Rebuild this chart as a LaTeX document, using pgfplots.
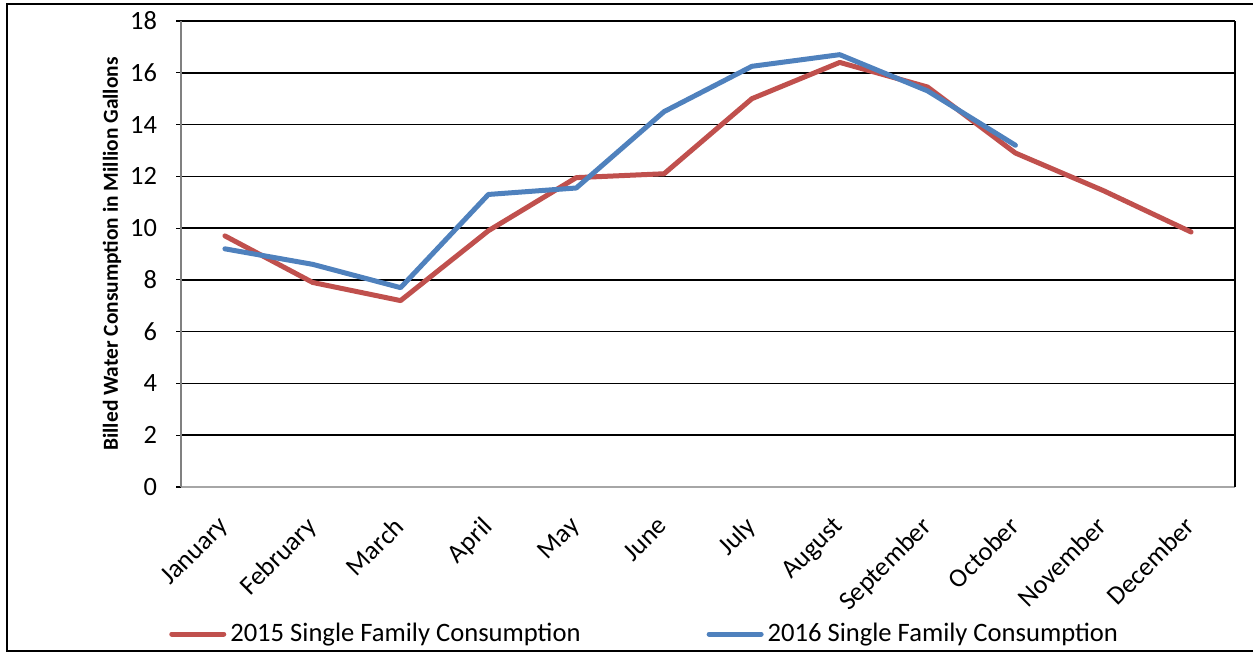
\documentclass[border=0pt]{standalone}
\usepackage{fontspec}
\setmainfont{Carlito}
\usepackage{pgfplots}
\pgfplotsset{compat=1.18}
\definecolor{cred}{HTML}{C0504D}
\definecolor{cblue}{HTML}{4F81BD}
\begin{document}
\begin{tikzpicture}[x=1pt,y=1pt]
\useasboundingbox (0,0) rectangle (626.5,-326);
\draw[black, line width=0.9pt] (3.5,-2) rectangle (640,-325.5);
\begin{axis}[
  at={(90.5pt,-243.5pt)}, anchor=south west,
  scale only axis, width=527pt, height=233pt,
  xmin=-0.5, xmax=11.5, ymin=0, ymax=18,
  ytick={0,2,...,18},
  xtick={0,...,11},
  xticklabels={January,February,March,April,May,June,July,August,September,October,November,December},
  /pgf/number format/assume math mode=true,
  ticklabel style={font=\fontsize{13.2}{15}\selectfont},
  xticklabel style={rotate=45, anchor=north east, xshift=-7.5pt, yshift=-2pt},
  yticklabel style={xshift=-6pt},
  x tick style={draw=none},
  y tick style={black, line width=0.6pt},
  tick align=outside, major tick length=2.5pt,
  ymajorgrids, grid style={black, line width=0.75pt},
  axis x line*=bottom, axis y line*=left,
  x axis line style={draw=black!35, line width=0.8pt, -},
  y axis line style={draw=black!50, line width=1.1pt, -},
  ylabel={Billed Water Consumption in Million Gallons},
  every axis y label/.style={at={(axis description cs:-0.0655,0.5)}, rotate=90, anchor=center, font=\bfseries\fontsize{10.7}{12}\selectfont},
  legend columns=2,
  legend style={at={(axis description cs:-0.0115,-0.3155)}, anchor=west, draw=none, fill=none, inner sep=0pt,
    font=\fontsize{13.3}{16}\selectfont,
    /tikz/every even column/.append style={column sep=61pt}},
  legend image code/.code={\draw[#1, line cap=round] (0pt,0pt) -- (26pt,0pt);},
  clip=false,
]
\draw[black, line width=0.9pt] (rel axis cs:1,0) -- (rel axis cs:1,1);
\addplot[cred, line width=2.5pt, line join=round, line cap=round] coordinates {
(0,9.7) (1,7.9) (2,7.2) (3,9.9) (4,11.95) (5,12.1) (6,15.0) (7,16.4) (8,15.45) (9,12.9) (10,11.45) (11,9.85)};
\addlegendentry{2015 Single Family Consumption}
\addplot[cblue, line width=2.5pt, line join=round, line cap=round] coordinates {
(0,9.2) (1,8.6) (2,7.7) (3,11.3) (4,11.55) (5,14.5) (6,16.25) (7,16.7) (8,15.3) (9,13.2)};
\addlegendentry{2016 Single Family Consumption}
\end{axis}
\end{tikzpicture}
\end{document}
